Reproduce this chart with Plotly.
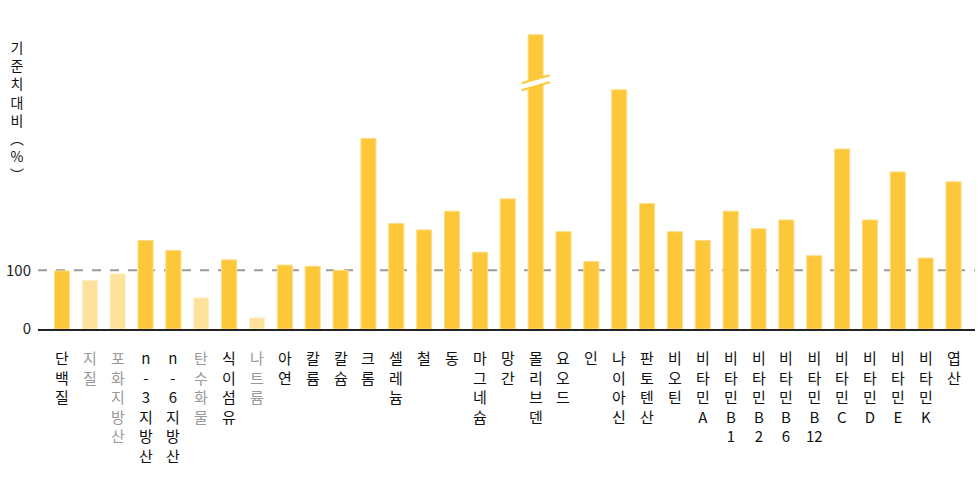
import re
import plotly.graph_objects as go

categories = ["단백질", "지질", "포화지방산", "n-3지방산", "n-6지방산", "탄수화물", "식이섬유", "나트륨",
              "아연", "칼륨", "칼슘", "크롬", "셀레늄", "철", "동", "마그네슘", "망간", "몰리브덴",
              "요오드", "인", "나이아신", "판토텐산", "비오틴", "비타민A", "비타민B1", "비타민B2",
              "비타민B6", "비타민B12", "비타민C", "비타민D", "비타민E", "비타민K", "엽산"]
values = [99, 83, 94, 151, 134, 53, 118, 19, 109, 107, 100, 325, 180, 169, 201, 131, 222, 502,
          166, 115, 408, 214, 166, 151, 201, 171, 186, 125, 307, 186, 268, 121, 251]
limited = ["지질", "포화지방산", "탄수화물", "나트륨"]
broken = "몰리브덴"
break_value = 420
reference_value = 100
y_ticks = [0, 100]
y_title = "기준치 대비 (%)"

MAIN = "#FCC83A"
PALE = "#FCE29B"
FONT = "Noto Sans CJK KR"

colors = [PALE if c in limited else MAIN for c in categories]
edge = ["#FDEFC6" if c in limited else "#FEDC85" for c in categories]

fig = go.Figure(go.Bar(
    x=list(range(len(categories))), y=values,
    marker=dict(color=colors, line=dict(color=edge, width=1)),
    width=0.54, hoverinfo="skip",
))

# reference dashed line
fig.add_shape(type="line", xref="paper", x0=0, x1=1, yref="y", y0=reference_value, y1=reference_value,
              line=dict(color="#9A9A9A", width=2, dash="dash"), layer="below")

# break mark on the broken bar
bi = categories.index(broken)
dx = 0.51
sl = 13.5
gap = 12
poly = (f"M {bi-dx} {break_value-sl/2-gap/2} L {bi+dx} {break_value+sl/2-gap/2} "
        f"L {bi+dx} {break_value+sl/2+gap/2} L {bi-dx} {break_value-sl/2+gap/2} Z")
fig.add_shape(type="path", path=poly, xref="x", yref="y", fillcolor="white", line=dict(width=0))
for s in (-1, 1):
    fig.add_shape(type="line", xref="x", yref="y",
                  x0=bi - dx, y0=break_value - sl/2 + s*gap/2,
                  x1=bi + dx, y1=break_value + sl/2 + s*gap/2,
                  line=dict(color=MAIN, width=2))


def stacked(s):
    return "<br>".join(re.findall(r"\d+|\S", s))


annotations = []
for i, c in enumerate(categories):
    col = "#999999" if c in limited else "#111111"
    annotations.append(dict(x=i, y=0, xref="x", yref="y", text=stacked(c), showarrow=False,
                            xanchor="center", yanchor="top", yshift=-16, align="center",
                            font=dict(family=FONT, size=15, color=col)))

# vertical y-axis title
vert = {"(": "︵", ")": "︶"}
title_text = stacked("".join(vert.get(ch, ch) for ch in y_title))
annotations.append(dict(x=0, y=1, xref="paper", yref="paper", text=title_text, showarrow=False,
                        xanchor="center", yanchor="top", xshift=-21, yshift=-5, align="center",
                        font=dict(family=FONT, size=14, color="#111111")))

fig.update_layout(
    width=980, height=490,
    margin=dict(l=38, r=5, t=30, b=161),
    paper_bgcolor="white", plot_bgcolor="white",
    showlegend=False,
    annotations=annotations,
    font=dict(family=FONT),
    xaxis=dict(range=[-0.86, len(categories) - 1 + 0.77], showticklabels=False, showgrid=False,
               zeroline=False, showline=True, linecolor="#222222", linewidth=2, ticks=""),
    yaxis=dict(range=[0, 510], tickvals=y_ticks, ticktext=[str(v) for v in y_ticks], showgrid=False,
               zeroline=False, showline=False, ticks="", ticklabelstandoff=6,
               tickfont=dict(family=FONT, size=15, color="#222222")),
)

fig.write_html("out.html", config={"displayModeBar": False},
               post_script="document.body.style.margin='0';")
